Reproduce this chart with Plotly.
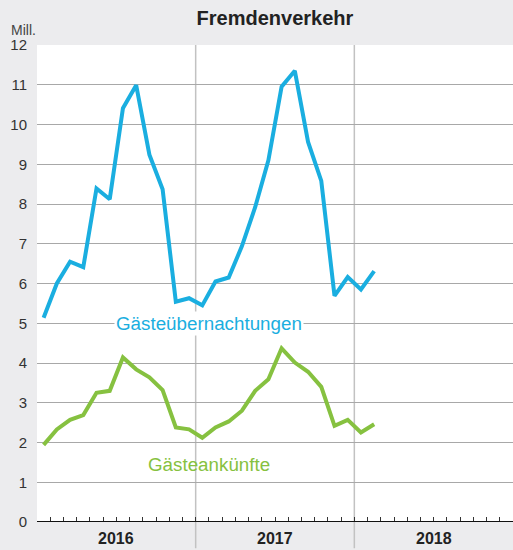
import plotly.graph_objects as go

# Monthly values, Jan 2016 .. Feb 2018 (millions)
months_idx = list(range(26))
naechtigungen = [5.14, 6.00, 6.55, 6.41, 8.39, 8.12, 10.41, 10.99, 9.24, 8.37, 5.54, 5.63,
                 5.45, 6.05, 6.15, 6.94, 7.92, 9.10, 10.95, 11.35, 9.56, 8.58, 5.69, 6.16,
                 5.85, 6.31]
ankuenfte = [1.94, 2.33, 2.57, 2.69, 3.25, 3.30, 4.14, 3.84, 3.64, 3.32, 2.38, 2.33,
             2.12, 2.38, 2.53, 2.80, 3.30, 3.59, 4.37, 4.01, 3.78, 3.40, 2.42, 2.57,
             2.25, 2.46]
years = ["2016", "2017", "2018"]
y_ticks = list(range(0, 13))

BLUE = "#1aaee0"
GREEN = "#86c140"
FONT = "Liberation Sans, Arial, sans-serif"

x_mid = [m + 0.5 for m in months_idx]

fig = go.Figure()
fig.add_trace(go.Scatter(x=x_mid, y=naechtigungen, mode="lines",
                         line=dict(color=BLUE, width=4), hoverinfo="skip"))
fig.add_trace(go.Scatter(x=x_mid, y=ankuenfte, mode="lines",
                         line=dict(color=GREEN, width=4), hoverinfo="skip"))

# year separators reaching down into the label band
shapes = []
for k in (1, 2):
    shapes.append(dict(type="line", xref="x", yref="paper", x0=12 * k, x1=12 * k,
                       y0=-0.055, y1=1, line=dict(color="#c2c2c2", width=1.5),
                       layer="below"))

annotations = []
for i, yr in enumerate(years):
    annotations.append(dict(x=12 * i + 6, y=-0.034, xref="x", yref="paper", yanchor="middle",
                            text=f"<b>{yr}</b>", showarrow=False,
                            font=dict(size=16, color="#222", family=FONT)))
annotations.append(dict(x=-0.058, y=1.0, xref="paper", yref="paper", xanchor="left",
                        yanchor="bottom", yshift=5, text="Mill.", showarrow=False,
                        font=dict(size=14, color="#444", family=FONT)))
annotations.append(dict(x=13.0, y=5.0, xref="x", yref="y", text="Gästeübernachtungen",
                        showarrow=False, bgcolor="white", borderpad=1,
                        font=dict(size=18.8, color=BLUE, family=FONT)))
annotations.append(dict(x=13.0, y=1.45, xref="x", yref="y", text="Gästeankünfte",
                        showarrow=False, font=dict(size=18.8, color=GREEN, family=FONT)))

fig.update_layout(
    width=513, height=550,
    margin=dict(l=37, r=0, t=45, b=28),
    paper_bgcolor="#ececee", plot_bgcolor="white",
    showlegend=False,
    title=dict(text="<b>Fremdenverkehr</b>", x=0.536, xanchor="center", y=0.967,
               yanchor="middle", font=dict(size=20, color="#222", family=FONT)),
    xaxis=dict(range=[0, 36], tickvals=list(range(0, 37)), ticks="inside", ticklen=5,
               tickcolor="#333", tickwidth=1, showticklabels=False, showgrid=False,
               zeroline=False, showline=False, fixedrange=True),
    yaxis=dict(range=[0, 12], tickvals=y_ticks, ticktext=[str(v) for v in y_ticks],
               showgrid=True, gridcolor="#a8a8a8", gridwidth=1, zeroline=False,
               showline=False, ticks="", ticklabelstandoff=9,
               tickfont=dict(size=15, color="#333", family=FONT), fixedrange=True),
    shapes=shapes + [dict(type="line", xref="paper", yref="y", x0=0, x1=1, y0=0, y1=0,
                          line=dict(color="#111", width=2))],
    annotations=annotations,
)

fig.write_html("out.html")
